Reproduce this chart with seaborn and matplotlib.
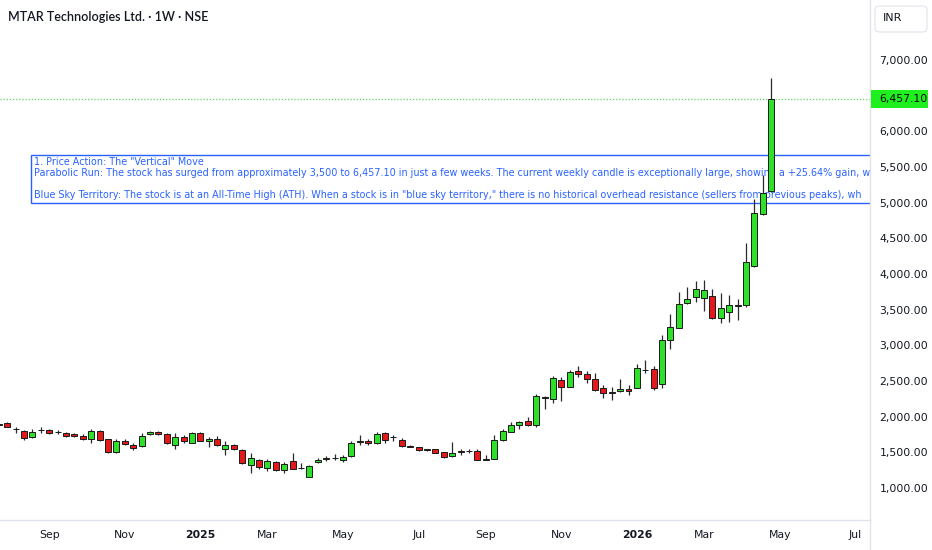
import pandas as pd
import numpy as np
import matplotlib
matplotlib.use("Agg")
from matplotlib import pyplot as plt
import matplotlib.dates as mdates
from matplotlib.patches import Rectangle, FancyBboxPatch
from matplotlib.lines import Line2D
import seaborn as sns

# weekly OHLC (last bar = week of 27 Apr 2026)
last_week = "2026-04-27"

opens = [1885, 1905, 1830, 1805, 1710, 1810, 1812, 1782, 1766, 1760,
         1732, 1686, 1803, 1682, 1504, 1663, 1598, 1588, 1757, 1785,
         1757, 1607, 1719, 1635, 1775, 1663, 1682, 1542, 1607, 1532,
         1326, 1392, 1280, 1364, 1252, 1374, 1275, 1158, 1358, 1410,
         1420, 1392, 1448, 1650, 1663, 1626, 1766, 1715, 1672, 1582,
         1570, 1532, 1542, 1504, 1448, 1508, 1520, 1523, 1398, 1402,
         1672, 1790, 1888, 1938, 1878, 2265, 2250, 2518, 2420, 2640,
         2598, 2527, 2400, 2335, 2355, 2383, 2405, 2648, 2664, 2453,
         3074, 3247, 3589, 3677, 3663, 3691, 3383, 3467, 3551, 3570,
         4112, 4841, 5164]

highs = [1905, 1925, 1860, 1812, 1830, 1850, 1830, 1812, 1785, 1770,
         1756, 1830, 1812, 1690, 1682, 1682, 1626, 1766, 1803, 1800,
         1775, 1766, 1747, 1785, 1785, 1710, 1728, 1663, 1616, 1551,
         1494, 1410, 1402, 1383, 1364, 1486, 1354, 1318, 1420, 1448,
         1476, 1458, 1663, 1738, 1682, 1785, 1785, 1747, 1700, 1607,
         1575, 1551, 1550, 1510, 1644, 1542, 1551, 1542, 1466, 1740,
         1830, 1925, 1943, 1990, 2318, 2290, 2570, 2560, 2654, 2710,
         2636, 2608, 2439, 2420, 2532, 2448, 2738, 2794, 2706, 3140,
         3439, 3743, 3813, 3906, 3916, 3794, 3729, 3701, 3645, 4438,
         5047, 5388, 6743]

lows = [1875, 1855, 1775, 1672, 1705, 1775, 1756, 1750, 1710, 1715,
        1672, 1626, 1662, 1494, 1494, 1598, 1532, 1570, 1742, 1742,
        1616, 1551, 1626, 1626, 1654, 1570, 1588, 1466, 1532, 1336,
        1214, 1270, 1235, 1243, 1214, 1262, 1270, 1150, 1346, 1374,
        1392, 1364, 1440, 1598, 1607, 1616, 1635, 1654, 1579, 1570,
        1525, 1514, 1490, 1425, 1440, 1458, 1494, 1390, 1395, 1400,
        1662, 1785, 1822, 1870, 1860, 2110, 2187, 2215, 2412, 2560,
        2467, 2355, 2260, 2240, 2345, 2307, 2397, 2608, 2374, 2397,
        2952, 3239, 3579, 3607, 3477, 3373, 3309, 3327, 3355, 3533,
        4102, 4832, 5154]

closes = [1900, 1860, 1825, 1705, 1790, 1815, 1766, 1778, 1728, 1724,
          1690, 1803, 1672, 1504, 1663, 1616, 1556, 1733, 1785, 1757,
          1635, 1719, 1663, 1766, 1663, 1682, 1598, 1607, 1542, 1346,
          1420, 1290, 1374, 1252, 1336, 1270, 1280, 1308, 1392, 1416,
          1414, 1430, 1626, 1656, 1626, 1757, 1672, 1720, 1588, 1578,
          1532, 1550, 1494, 1430, 1494, 1518, 1524, 1392, 1404, 1672,
          1798, 1878, 1925, 1878, 2290, 2270, 2538, 2420, 2622, 2594,
          2527, 2378, 2336, 2340, 2387, 2363, 2678, 2654, 2397, 3074,
          3261, 3579, 3645, 3794, 3771, 3383, 3519, 3565, 3570, 4164,
          4855, 5139, 6457.10]

last_price = 6457.10

tick_dates = ["2024-09-02", "2024-11-04", "2025-01-06", "2025-03-03", "2025-05-05", "2025-07-07",
              "2025-09-01", "2025-11-03", "2026-01-05", "2026-03-02", "2026-05-04", "2026-07-06"]
tick_labels = ["Sep", "Nov", "2025", "Mar", "May", "Jul", "Sep", "Nov", "2026", "Mar", "May", "Jul"]
# 6,500 is hidden behind the last price label on the original
y_ticks = [1000, 1500, 2000, 2500, 3000, 3500, 4000, 4500, 5000, 5500, 6000, 7000]

title = "MTAR Technologies Ltd. \u00b7 1W \u00b7 NSE"
note_lines = [
    "1. Price Action: The \"Vertical\" Move",
    "Parabolic Run: The stock has surged from approximately 3,500 to 6,457.10 in just a few weeks. "
    "The current weekly candle is exceptionally large, showing a +25.64% gain, w",
    "Blue Sky Territory: The stock is at an All-Time High (ATH). When a stock is in \"blue sky territory,\" "
    "there is no historical overhead resistance (sellers from previous peaks), wh",
]

GREEN = "#2fe02a"
RED = "#e3191b"
BLUE = "#2962ff"
GRID = "#e0e3eb"
TXT = "#131722"

sns.set_theme(style="white")
plt.rcParams["font.family"] = ["DejaVu Sans"]

df = pd.DataFrame({"open": opens, "high": highs, "low": lows, "close": closes})
df["date"] = pd.date_range(end=last_week, periods=len(df), freq="7D")
df["x"] = mdates.date2num(df["date"])
df["up"] = df["close"] >= df["open"]
df["bottom"] = df[["open", "close"]].min(axis=1)
df["height"] = (df["close"] - df["open"]).abs()

W, H = 932, 550
fig = plt.figure(figsize=(W / 100, H / 100), dpi=100)
ax = fig.add_axes([0, 30 / H, 870 / W, 520 / H])

# wicks and bodies
ax.vlines(df["x"], df["low"], df["high"], color="#2a2a2a", linewidth=0.9, zorder=3)
ax.bar(df["x"], df["height"], bottom=df["bottom"], width=5.0,
       color=np.where(df["up"], GREEN, RED), edgecolor="#1a1a1a", linewidth=0.7, zorder=4)

# pixel based limits: 14.02 price per px, first visible date about 23 Jul 2024
ax.set_ylim(7841.2 - 14.02 * 520, 7841.2)
x_left = mdates.date2num(pd.Timestamp("2024-07-23"))
ax.set_xlim(x_left, x_left + 870 / 8.396 * 7)

# last price dotted line
ax.axhline(last_price, color="#5fd85f", linestyle=(0, (1, 1.5)), linewidth=0.9, zorder=1)

ax.yaxis.tick_right()
ax.set_yticks(y_ticks)
ax.set_yticklabels([f"{v:,.2f}" for v in y_ticks])
ax.set_xticks(mdates.date2num(pd.to_datetime(tick_dates)))
ax.set_xticklabels(tick_labels)
for lab in ax.get_xticklabels():
    if lab.get_text().isdigit():
        lab.set_fontweight("bold")
ax.tick_params(axis="y", length=0, pad=6.7, labelsize=7.8, labelcolor=TXT)
ax.tick_params(axis="x", length=0, pad=7, labelsize=7.8, labelcolor=TXT)
ax.grid(False)
for side in ["top", "left"]:
    ax.spines[side].set_visible(False)
for side in ["right", "bottom"]:
    ax.spines[side].set_color(GRID)
    ax.spines[side].set_linewidth(1)
fig.add_artist(Line2D([870 / W, 870 / W], [0, 30 / H], color=GRID, linewidth=1))

# note box (clipped by plot area, under the candles)
ax.add_patch(Rectangle((31 / 870, 1 - 202.5 / 520), 1.2, 48 / 520, transform=ax.transAxes,
                       fill=False, edgecolor=BLUE, linewidth=1.0, zorder=2, clip_on=True))
for yy, line in zip([162.3, 173.3, 194.5], note_lines):
    ax.text(34.5 / 870, 1 - yy / 520, line, transform=ax.transAxes, color=BLUE, fontsize=6.95,
            va="center", ha="left", clip_on=True, zorder=2)

# title
fig.text(8 / W, 1 - 17 / H, title, fontsize=9.0, fontweight="semibold", color=TXT,
         family=["Lato", "DejaVu Sans"], va="center", ha="left")

# currency box
fig.add_artist(FancyBboxPatch((875 / W, 1 - 32 / H), 52 / W, 26 / H,
                              boxstyle="round,pad=0,rounding_size=0.006",
                              transform=fig.transFigure, facecolor="white", edgecolor=GRID, linewidth=0.8))
fig.text(883 / W, 1 - 18 / H, "INR", fontsize=8, color=TXT, va="center", ha="left")

# last price label
fig.add_artist(Rectangle((870.5 / W, 1 - 107.5 / H), 57.5 / W, 17.8 / H, transform=fig.transFigure,
                         facecolor="#1fee1f", edgecolor="none"))
fig.text(879.3 / W, 1 - 98.6 / H, f"{last_price:,.2f}", fontsize=7.8, color="#0a0a0a",
         va="center", ha="left")

fig.savefig("out.png", dpi=100, facecolor="white")
